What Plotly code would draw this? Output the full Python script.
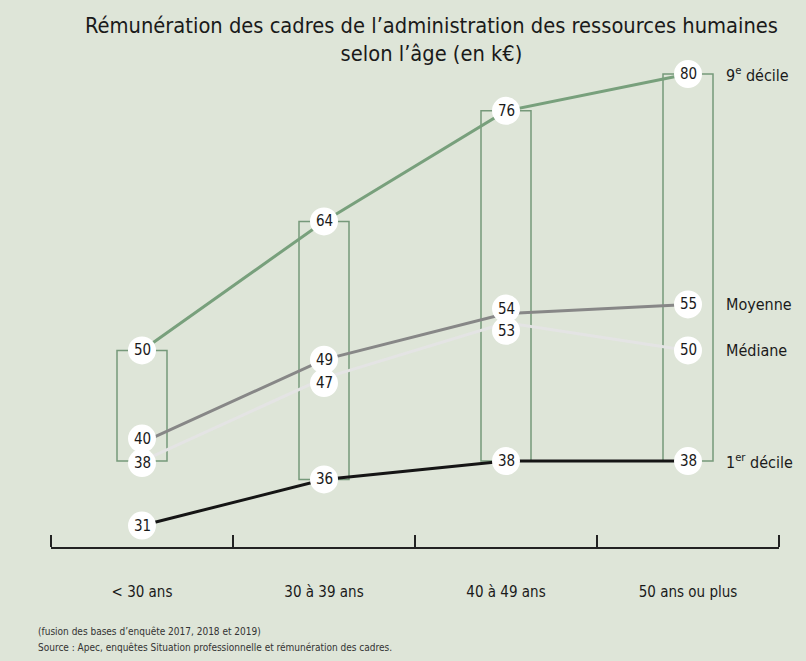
import plotly.graph_objects as go

# Données (en k€)
categories = ["< 30 ans", "30 à 39 ans", "40 à 49 ans", "50 ans ou plus"]
decile_9 = [50, 64, 76, 80]
moyenne = [40, 49, 54, 55]
mediane = [38, 47, 53, 50]
decile_1 = [31, 36, 38, 38]
# bornes des rectangles telles que dessinées dans la figure
boite_haut = [50, 64, 76, 80]
boite_bas = [38, 36, 38, 38]

titre = "Rémunération des cadres de l’administration des ressources humaines<br>selon l’âge (en k€)"
note_1 = "(fusion des bases d’enquête 2017, 2018 et 2019)"
note_2 = "Source : Apec, enquêtes Situation professionnelle et rémunération des cadres."

bg = "#dee5d8"
vert = "#78a07c"
vert_boite = "#76997a"
police = "DejaVu Sans Condensed, Roboto Condensed, Liberation Sans Narrow, Roboto, sans-serif"

series = [
    # nom, valeurs, couleur, décalage vertical des pastilles (px)
    ("1<sup>er</sup> décile", decile_1, "#151515", [0, 0, 0, 0]),
    ("Médiane", mediane, "#e4e4e4", [-2, -5, -8, 0]),
    ("Moyenne", moyenne, "#878787", [4, 0, 5, 0]),
    ("9<sup>e</sup> décile", decile_9, vert, [0, 0, 0, 0]),
]

x = list(range(len(categories)))

fig = go.Figure()

for i in x:
    fig.add_shape(type="rect", xref="x", yref="y", xsizemode="pixel",
                  xanchor=i, x0=-25, x1=25, y0=boite_bas[i], y1=boite_haut[i],
                  line=dict(color=vert_boite, width=1.5), layer="below")

for nom, vals, couleur, dec in series:
    fig.add_trace(go.Scatter(x=x, y=vals, mode="lines", name=nom,
                             line=dict(color=couleur, width=3),
                             hoverinfo="skip", showlegend=False))

for nom, vals, couleur, dec in series:
    for i, v in enumerate(vals):
        fig.add_shape(type="circle", xref="x", yref="y",
                      xsizemode="pixel", ysizemode="pixel",
                      xanchor=i, yanchor=v, x0=-14, x1=14,
                      y0=dec[i] - 14, y1=dec[i] + 14,
                      fillcolor="white", line=dict(color="white", width=0), layer="above")
        fig.add_annotation(x=i, y=v, yshift=dec[i], text=str(v), showarrow=False,
                           font=dict(family=police, size=15, color="#1a1a1a"))
    fig.add_annotation(x=x[-1], y=vals[-1], xshift=36, xanchor="left", text=nom,
                       showarrow=False, font=dict(family=police, size=16, color="#1a1a1a"))

# titre
fig.add_annotation(xref="paper", yref="paper", x=(0.535 * 806 - 51) / 728, y=1.0, yshift=-8,
                   xanchor="center", yanchor="bottom", text=titre, showarrow=False,
                   font=dict(family=police, size=21.7, color="#1a1a1a"))

# notes de bas de page
for k, txt in enumerate([note_1, note_2]):
    fig.add_annotation(xref="paper", yref="paper", x=-0.02, y=-0.173, yshift=-16 * k,
                       xanchor="left", yanchor="middle", text=txt, showarrow=False, align="left",
                       font=dict(family=police, size=10, color="#333333"))

fig.update_layout(
    width=806, height=661,
    margin=dict(l=51, r=27, t=60, b=114),
    paper_bgcolor=bg, plot_bgcolor=bg,
    xaxis=dict(range=[-0.5, 3.5], tickvals=x, ticktext=categories, ticks="",
               showgrid=False, zeroline=False, showline=True, linecolor="#222222", linewidth=1.5,
               ticklabelstandoff=30, tickfont=dict(family=police, size=15, color="#1a1a1a"),
               minor=dict(tickvals=[-0.5, 0.5, 1.5, 2.5, 3.5], ticks="inside", ticklen=12,
                          tickwidth=1.5, tickcolor="#222222", showgrid=False)),
    yaxis=dict(range=[28.67, 81.52], visible=False),
    showlegend=False,
)

fig.write_html("out.html", config={"displayModeBar": False},
               post_script="document.body.style.margin='0';")
